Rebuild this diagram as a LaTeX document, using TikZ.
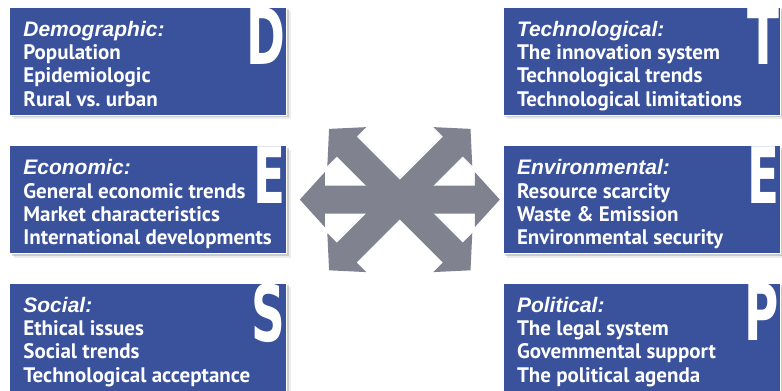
\documentclass[tikz,border=0pt]{standalone}
\usepackage{fontspec}
\setmainfont{PT Sans}
\newfontfamily\letterfont{DejaVu Sans}
\newfontfamily\titlefont{Liberation Sans}
\usetikzlibrary{positioning,shadows,calc}
\definecolor{pestblue}{RGB}{58,81,155}
\definecolor{hubgray}{RGB}{128,131,143}
\tikzset{
  pbox/.style={draw=white,line width=0.6pt,fill=pestblue,
               minimum width=277pt,minimum height=108pt,inner sep=0pt,
               drop shadow={shadow xshift=2pt,shadow yshift=-2pt,opacity=0.3},
               drop shadow={shadow xshift=4pt,shadow yshift=-4pt,opacity=0.15}},
  ptext/.style={anchor=north west,align=left,inner sep=0pt,text=white,
                font=\fontsize{21}{23.3}\selectfont\bfseries},
  pletter/.style={anchor=north east,inner sep=0pt,text=white,
                  font=\letterfont\fontsize{78}{78}\selectfont\bfseries},
  hubarrow/.style={fill=hubgray},
}
\newcommand{\pestlet}[1]{\scalebox{0.6}[1]{#1}}
\newcommand{\ptitle}[1]{{\titlefont\bfseries\itshape #1}}

\begin{document}
\begin{tikzpicture}[x=1pt,y=1pt]
  \useasboundingbox (0,0) rectangle (782,-391);
  % left column
  \node[pbox] (dem) at (148,-61) {};
  \node[pbox,below=30pt of dem] (eco) {};
  \node[pbox,below=29pt of eco] (soc) {};
  % right column
  \node[pbox,right=216pt of dem] (tec) {};
  \node[pbox,right=216pt of eco] (env) {};
  \node[pbox,right=216pt of soc] (pol) {};

  % big letters
  \node[pletter] (demL) at ([xshift=-1pt,yshift=-1pt]dem.north east) {\pestlet{D}};
  \node[pletter] (ecoL) at ([xshift=-1pt,yshift=-1pt]eco.north east) {\pestlet{E}};
  \node[pletter] (socL) at ([xshift=-1pt,yshift=-1pt]soc.north east) {\pestlet{S}};
  \node[pletter] (tecL) at ([xshift=-1pt,yshift=-1pt]tec.north east) {\pestlet{T}};
  \node[pletter] (envL) at ([xshift=-1pt,yshift=-1pt]env.north east) {\pestlet{E}};
  \node[pletter] (polL) at ([xshift=-1pt,yshift=-1pt]pol.north east) {\pestlet{P}};

  % texts
  \node[ptext] (demT) at ([xshift=14pt,yshift=-14pt]dem.north west)
    {\ptitle{Demographic:}\\Population\\Epidemiologic\\Rural vs.\ urban};
  \node[ptext] (ecoT) at ([xshift=14pt,yshift=-14pt]eco.north west)
    {\ptitle{Economic:}\\General economic trends\\Market characteristics\\International developments};
  \node[ptext] (socT) at ([xshift=14pt,yshift=-14pt]soc.north west)
    {\ptitle{Social:}\\Ethical issues\\Social trends\\Technological acceptance};
  \node[ptext] (tecT) at ([xshift=14pt,yshift=-14pt]tec.north west)
    {\ptitle{Technological:}\\The innovation system\\Technological trends\\Technological limitations};
  \node[ptext] (envT) at ([xshift=14pt,yshift=-14pt]env.north west)
    {\ptitle{Environmental:}\\Resource scarcity\\Waste \& Emission\\Environmental security};
  \node[ptext] (polT) at ([xshift=14pt,yshift=-14pt]pol.north west)
    {\ptitle{Political:}\\The legal system\\Govemmental support\\The political agenda};

  % crossing arrows
  \coordinate[right=113pt of eco.east] (hub);
  \foreach \ang in {0,45,-45}
    \fill[hubarrow,shift={(hub)},rotate=\ang]
      (-100,0) -- (-75,27.5) -- (-75,14) -- (75,14) -- (75,27.5) -- (100,0)
      -- (75,-27.5) -- (75,-14) -- (-75,-14) -- (-75,-27.5) -- cycle;
\end{tikzpicture}
\end{document}
